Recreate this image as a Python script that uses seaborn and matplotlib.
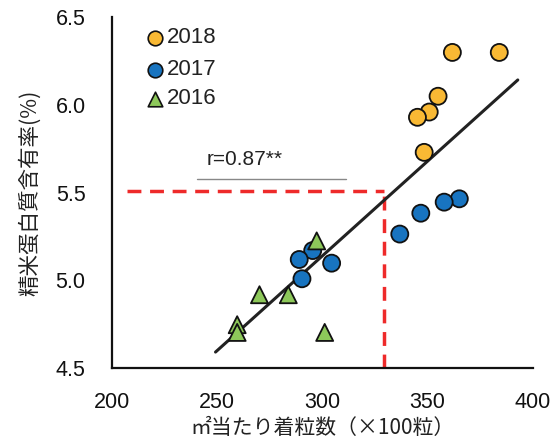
import matplotlib
matplotlib.use('Agg')
import matplotlib.pyplot as plt
import seaborn as sns
import pandas as pd
import numpy as np

# データ
x_2018 = [361.8, 384.1, 355.0, 350.8, 345.2, 348.4]
y_2018 = [6.30, 6.30, 6.05, 5.96, 5.93, 5.73]
x_2017 = [365.1, 357.9, 346.8, 336.8, 295.4, 289.0, 304.4, 290.3]
y_2017 = [5.465, 5.446, 5.383, 5.264, 5.170, 5.119, 5.098, 5.009]
x_2016 = [297.3, 270.1, 283.8, 259.5, 259.5, 301.1]
y_2016 = [5.225, 4.918, 4.918, 4.747, 4.703, 4.703]

years = ['2018', '2017', '2016']
colors = {'2018': '#F9B934', '2017': '#1874C0', '2016': '#8DC85A'}
markers = {'2018': 'o', '2017': 'o', '2016': '^'}

fit_x = [249.2, 392.9]
fit_y = [4.591, 6.143]
thresh_x = 329.3
thresh_y = 5.51
r_text = 'r=0.87**'

df = pd.DataFrame({
    'x': x_2018 + x_2017 + x_2016,
    'y': y_2018 + y_2017 + y_2016,
    'year': ['2018'] * len(x_2018) + ['2017'] * len(x_2017) + ['2016'] * len(x_2016),
})

sns.set_style('white')
plt.rcParams['font.family'] = ['Liberation Sans', 'Noto Sans CJK JP', 'DejaVu Sans']
jp = ['Noto Sans CJK JP', 'DejaVu Sans']

fig = plt.figure(figsize=(5.54, 4.45), dpi=100)
ax = fig.add_axes([0.2022, 0.173, 0.7594, 0.788])

# 回帰直線
ax.plot(fit_x, fit_y, color='#222222', lw=2.2, zorder=2)

# 閾値の破線
ax.plot([207.1, thresh_x], [thresh_y, thresh_y], color='#EE2A2A', lw=2.5,
        ls=(0, (4, 2.5)), zorder=1)
ax.plot([thresh_x, thresh_x], [4.5, thresh_y], color='#EE2A2A', lw=2.5,
        ls=(0, (4, 2.5)), zorder=1, clip_on=False)

sns.scatterplot(data=df, x='x', y='y', hue='year', style='year',
                hue_order=years, style_order=years, palette=colors,
                markers=markers, s=150, edgecolor='#111111', linewidth=1.3,
                ax=ax, zorder=3, legend=False)

# 凡例
leg_y = [6.385, 6.20, 6.035]
for yr, ly in zip(years, leg_y):
    ax.scatter([220.5], [ly], marker=markers[yr], s=110, color=colors[yr],
               edgecolor='#111111', linewidth=1.2, zorder=4)
    ax.text(226, ly, yr, fontsize=16, va='center', ha='left', color='#222222')

# 相関係数
ax.text(245, 5.69, r_text, fontsize=15, ha='left', va='center', color='#222222')
ax.plot([240.5, 311.4], [5.579, 5.579], color='#888888', lw=1.0)

ax.set_xlim(200, 400)
ax.set_ylim(4.5, 6.5)
ax.set_xticks([200, 250, 300, 350, 400])
ax.set_yticks([4.5, 5.0, 5.5, 6.0, 6.5])
ax.set_yticklabels(['4.5', '5.0', '5.5', '6.0', '6.5'])
ax.tick_params(direction='in', length=7, width=1.5, labelsize=15.5, colors='#111111')
ax.tick_params(axis='y', pad=19)
ax.tick_params(axis='x', pad=17)
for side in ['top', 'right']:
    ax.spines[side].set_visible(False)
for side in ['left', 'bottom']:
    ax.spines[side].set_linewidth(1.6)
    ax.spines[side].set_color('#111111')

ax.set_xlabel('㎡当たり着粒数（×100粒）', fontsize=15, labelpad=3, family=jp,
              color='#222222')
ax.set_ylabel('精米蛋白質含有率(%)', fontsize=15.5, labelpad=10, family=jp,
              color='#222222')

fig.savefig('out.png', dpi=100)
